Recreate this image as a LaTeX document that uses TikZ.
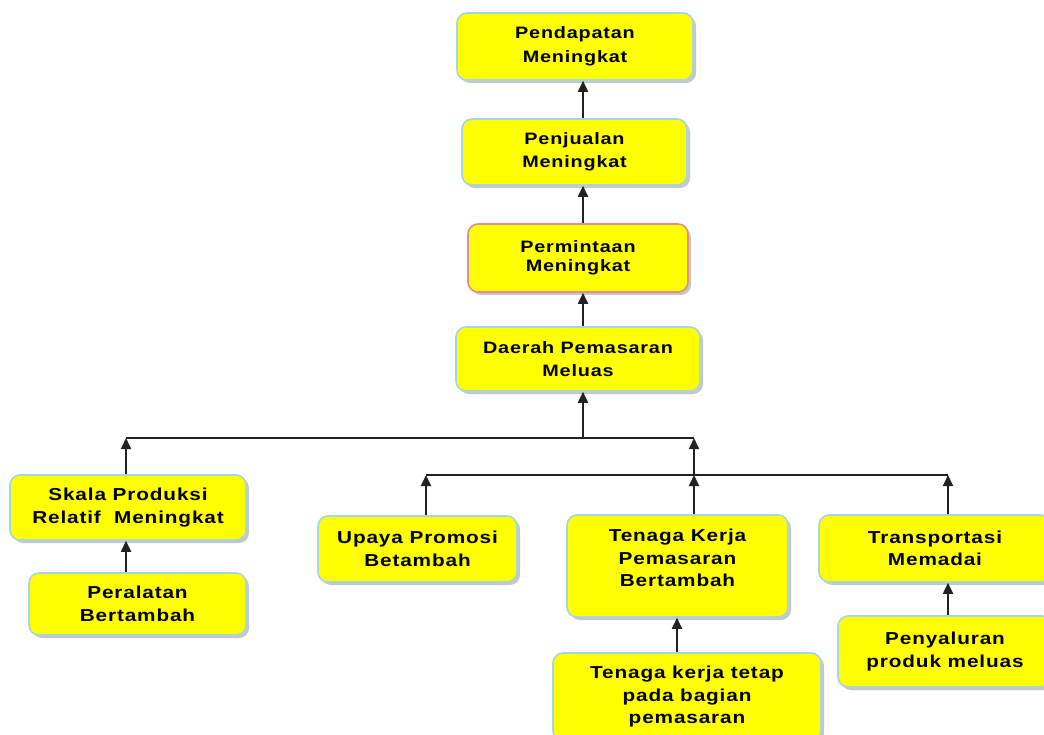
\documentclass[tikz,border=0pt]{standalone}
\usepackage{fontspec}
\newfontfamily\boxfont{Liberation Sans}[FakeStretch=1.2,LetterSpace=5]
\usetikzlibrary{shadows,arrows.meta}
\definecolor{boxyellow}{HTML}{FFFF00}
\definecolor{boxedge}{HTML}{A8D4E4}
\definecolor{rededge}{HTML}{E0908C}
\definecolor{linegray}{HTML}{222222}
\tikzset{
  box/.style={draw=boxedge, line width=1.6pt, fill=boxyellow, rounded corners=10pt,
    align=center, inner sep=2pt,
    font=\boxfont\bfseries\fontsize{17.3}{22.5}\selectfont,
    drop shadow={shadow xshift=3pt, shadow yshift=-3pt, fill=gray!55, opacity=0.8}},
  topbox/.style={box, font=\boxfont\bfseries\fontsize{16.5}{23.5}\selectfont},
  arr/.style={draw=linegray, line width=1.8pt, -{Triangle[width=10pt,length=11pt]}},
  link/.style={draw=linegray, line width=1.5pt}
}
\begin{document}
\begin{tikzpicture}[x=1pt,y=-1pt]
\useasboundingbox (0,0) rectangle (1044,735);
\clip (0,0) rectangle (1044,735);
\fill[white] (0,0) rectangle (1044,735);
% nodes
\node[topbox, minimum width=236pt, minimum height=67pt] (pend) at (575,46.5) {Pendapatan\\Meningkat};
\node[topbox, minimum width=225pt, minimum height=66pt] (penj) at (574.5,152) {Penjualan\\Meningkat};
\node[topbox, draw=rededge, minimum width=220pt, minimum height=68pt, font=\boxfont\bfseries\fontsize{16.5}{19}\selectfont] (perm) at (578,258) {Permintaan\\Meningkat};
\node[topbox, minimum width=244pt, minimum height=64pt] (daer) at (578,359) {Daerah Pemasaran\\Meluas};
\node[box, minimum width=236pt, minimum height=65pt] (skala) at (128,507.5) {Skala Produksi\\Relatif\ \ Meningkat};
\node[box, minimum width=217pt, minimum height=62pt] (peral) at (137.5,604) {Peralatan\\Bertambah};
\node[box, minimum width=199pt, minimum height=66pt] (upaya) at (417.5,549) {Upaya Promosi\\Betambah};
\node[box, minimum width=221pt, minimum height=102pt] (tk) at (677.5,566) {Tenaga Kerja\\Pemasaran\\Bertambah\\[-6.5pt]\mbox{}};
\node[box, minimum width=268pt, minimum height=88pt] (tkt) at (687,697) {Tenaga kerja tetap\\pada bagian\\pemasaran};
\node[box, minimum width=232pt, minimum height=67pt] (trans) at (935,548.5) {Transportasi\\Memadai};
\node[box, minimum width=214pt, minimum height=71pt] (peny) at (945,651.5) {Penyaluran\\produk meluas};
% columns and junctions
\coordinate (cmain) at (583,0);
\coordinate (cleft) at (126,0);
\coordinate (cmid) at (694,0);
\coordinate (cup) at (426,0);
\coordinate (ctr) at (948,0);
\coordinate (ctk) at (677,0);
\coordinate (row1) at (0,438);
\coordinate (row2) at (0,475);
% top chain
\draw[arr] (penj.north -| cmain) -- (pend.south -| cmain);
\draw[arr] (perm.north -| cmain) -- (penj.south -| cmain);
\draw[arr] (daer.north -| cmain) -- (perm.south -| cmain);
\draw[arr] (row1 -| cmain) -- (daer.south -| cmain);
% first bus
\draw[link] (row1 -| cleft) -- (row1 -| cmid);
\draw[arr] (skala.north -| cleft) -- (row1 -| cleft);
\draw[arr] (row2 -| cmid) -- (row1 -| cmid);
% second bus
\draw[link] (row2 -| cup) -- (row2 -| ctr);
\draw[arr] (upaya.north -| cup) -- (row2 -| cup);
\draw[arr] (tk.north -| cmid) -- (row2 -| cmid);
\draw[arr] (trans.north -| ctr) -- (row2 -| ctr);
% lower links
\draw[arr] (peral.north -| cleft) -- (skala.south -| cleft);
\draw[arr] (tkt.north -| ctk) -- (tk.south -| ctk);
\draw[arr] (peny.north -| ctr) -- (trans.south -| ctr);
\end{tikzpicture}
\end{document}
